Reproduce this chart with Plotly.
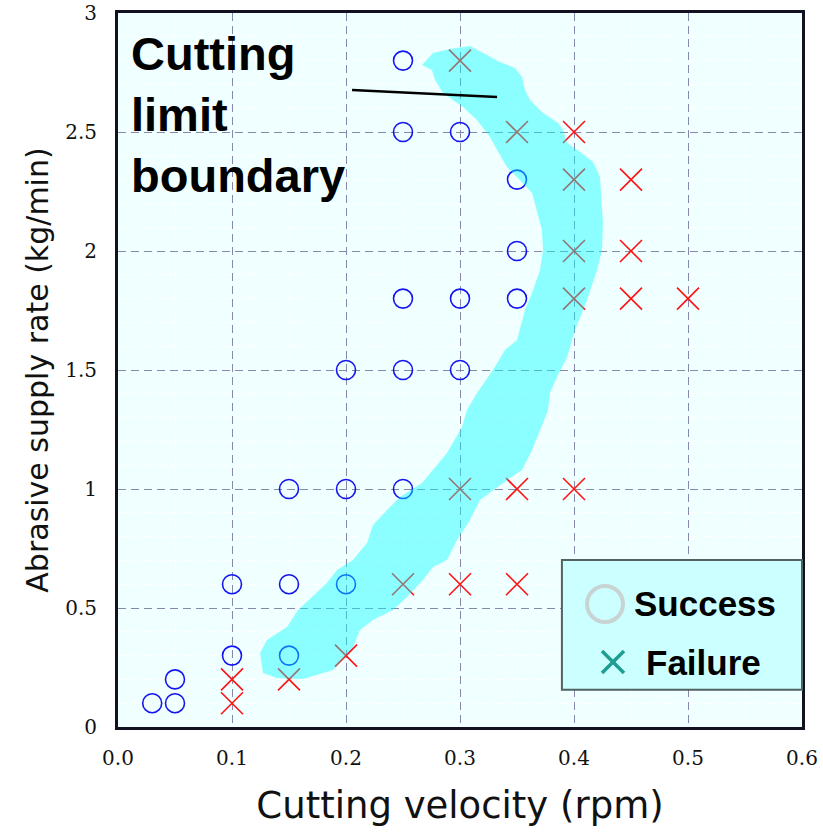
import plotly.graph_objects as go

# ---- data ----
success_v = [0.03, 0.05, 0.05, 0.10, 0.15, 0.10, 0.15, 0.20, 0.15, 0.20, 0.25,
             0.20, 0.25, 0.30, 0.25, 0.30, 0.35, 0.35, 0.35, 0.25, 0.30, 0.25]
success_r = [0.10, 0.10, 0.20, 0.30, 0.30, 0.60, 0.60, 0.60, 1.00, 1.00, 1.00,
             1.50, 1.50, 1.50, 1.80, 1.80, 1.80, 2.00, 2.30, 2.50, 2.50, 2.80]

failure_v = [0.10, 0.10, 0.15, 0.20, 0.25, 0.30, 0.35, 0.30, 0.35, 0.40,
             0.40, 0.45, 0.50, 0.40, 0.45, 0.40, 0.45, 0.35, 0.40, 0.30]
failure_r = [0.10, 0.20, 0.20, 0.30, 0.60, 0.60, 0.60, 1.00, 1.00, 1.00,
             1.80, 1.80, 1.80, 2.00, 2.00, 2.30, 2.30, 2.50, 2.50, 2.80]

# cutting limit boundary band (outline, data units)
band_v = [0.2667, 0.2763, 0.2912, 0.3088, 0.3202, 0.3351, 0.3482, 0.3544, 0.3570, 0.3614,
          0.3728, 0.3860, 0.3904, 0.3939, 0.4053, 0.4167, 0.4228, 0.4246, 0.4254, 0.4246,
          0.4202, 0.4114, 0.4009, 0.3939, 0.3851, 0.3789, 0.3772, 0.3728, 0.3632, 0.3544,
          0.3439, 0.3175, 0.3088, 0.2974, 0.2886, 0.2763, 0.2675, 0.2535, 0.2412, 0.2237,
          0.2123, 0.2061, 0.1886, 0.1623, 0.1395, 0.1272, 0.1246, 0.1307, 0.1482, 0.1579,
          0.1833, 0.1921, 0.2061, 0.2184, 0.2237, 0.2360, 0.2474, 0.2667, 0.2886, 0.3018,
          0.3061, 0.3149, 0.3289, 0.3395, 0.3500, 0.3570, 0.3632, 0.3702, 0.3728, 0.3719,
          0.3675, 0.3632, 0.3526, 0.3412, 0.3325, 0.3263, 0.3149, 0.3026, 0.2851, 0.2781,
          0.2754, 0.2667]
band_r = [2.782, 2.832, 2.849, 2.861, 2.832, 2.794, 2.769, 2.731, 2.676, 2.634,
          2.580, 2.538, 2.508, 2.454, 2.416, 2.374, 2.311, 2.202, 2.118, 2.004,
          1.920, 1.794, 1.668, 1.555, 1.471, 1.403, 1.332, 1.277, 1.164, 1.080,
          1.046, 0.954, 0.870, 0.786, 0.702, 0.672, 0.618, 0.546, 0.492, 0.450,
          0.408, 0.336, 0.239, 0.202, 0.206, 0.227, 0.311, 0.366, 0.420, 0.492,
          0.605, 0.660, 0.702, 0.773, 0.849, 0.912, 0.966, 1.025, 1.151, 1.261,
          1.332, 1.403, 1.500, 1.584, 1.626, 1.752, 1.824, 1.920, 2.004, 2.088,
          2.172, 2.244, 2.298, 2.353, 2.424, 2.479, 2.550, 2.605, 2.664, 2.718,
          2.761, 2.782]

x_ticks = [0.0, 0.1, 0.2, 0.3, 0.4, 0.5, 0.6]
y_ticks = [0, 0.5, 1, 1.5, 2, 2.5, 3]

label_text = "Cutting<br>limit<br>boundary"
label_pos = (0.010, 2.575)
pointer_v = [0.2053, 0.3325]
pointer_r = [2.676, 2.647]

legend_names = ["Success", "Failure"]

fig = go.Figure()

fig.add_trace(go.Scatter(
    x=success_v, y=success_r, mode="markers", name=legend_names[0], showlegend=False,
    marker=dict(symbol="circle-open", size=19, color="#1414f0", line=dict(width=1.6, color="#1414f0"))))
fig.add_trace(go.Scatter(
    x=failure_v, y=failure_r, mode="markers", name=legend_names[1], showlegend=False,
    marker=dict(symbol="x-thin-open", size=22, color="#ff1414", line=dict(width=1.6, color="#ff1414"))))
fig.add_trace(go.Scatter(
    x=band_v, y=band_r, mode="lines", fill="toself", showlegend=False,
    fillcolor="rgba(0,255,255,0.42)", line=dict(width=0), hoverinfo="skip"))

# pointer line from label to band
fig.add_trace(go.Scatter(
    x=pointer_v, y=pointer_r, mode="lines", showlegend=False,
    line=dict(color="black", width=2.5), hoverinfo="skip"))

fig.add_annotation(
    x=label_pos[0], y=label_pos[1], xref="x", yref="y", text="<b>" + label_text + "</b>",
    showarrow=False, xanchor="left", yanchor="middle", align="left",
    font=dict(family="Liberation Sans, Arial", size=47, color="black"))

# manual legend box
shapes = [
    dict(type="rect", xref="paper", yref="paper", x0=0.649, x1=1.0, y0=0.052, y1=0.234,
         fillcolor="#ccffff", line=dict(color="#506262", width=2), layer="above"),
    dict(type="circle", xref="paper", yref="paper", x0=0.6857, x1=0.7383, y0=0.147, y1=0.1975,
         line=dict(color="#c8d4d4", width=4), layer="above"),
    dict(type="line", xref="paper", yref="paper", x0=0.7076, x1=0.7398, y0=0.1064, y1=0.0756,
         line=dict(color="#1e9e92", width=3.5), layer="above"),
    dict(type="line", xref="paper", yref="paper", x0=0.7076, x1=0.7398, y0=0.0756, y1=0.1064,
         line=dict(color="#1e9e92", width=3.5), layer="above"),
]
fig.update_layout(shapes=shapes)
fig.add_annotation(x=0.7515, y=0.1723, xref="paper", yref="paper", text="<b>" + legend_names[0] + "</b>",
                   showarrow=False, xanchor="left", yanchor="middle",
                   font=dict(family="Liberation Sans, Arial", size=35, color="black"))
fig.add_annotation(x=0.769, y=0.091, xref="paper", yref="paper", text="<b>" + legend_names[1] + "</b>",
                   showarrow=False, xanchor="left", yanchor="middle",
                   font=dict(family="Liberation Sans, Arial", size=35, color="black"))

fig.update_xaxes(
    range=[0, 0.6], tickvals=x_ticks, tickformat=".1f", automargin=False,
    ticks="outside", ticklen=11, tickcolor="rgba(0,0,0,0)", ticklabeloverflow="allow",
    tickfont=dict(family="DejaVu Serif", size=20, color="#111111"),
    showgrid=True, gridcolor="#8888aa", gridwidth=1.2, griddash="8px,5px",
    minor=dict(dtick=0.05, showgrid=True, gridcolor="#ffffff", gridwidth=1),
    showline=True, linecolor="#111122", linewidth=3, mirror=True, zeroline=False,
    title=dict(text="Cutting velocity (rpm)", standoff=24,
               font=dict(family="DejaVu Sans", size=37, color="#111111")))
fig.update_yaxes(
    range=[0, 3], tickvals=y_ticks, automargin=False,
    ticks="outside", ticklen=14, tickcolor="rgba(0,0,0,0)", ticklabeloverflow="allow",
    tickfont=dict(family="DejaVu Serif", size=20, color="#111111"),
    showgrid=True, gridcolor="#8888aa", gridwidth=1.2, griddash="8px,5px",
    minor=dict(dtick=0.1, showgrid=True, gridcolor="#ffffff", gridwidth=1),
    showline=True, linecolor="#111122", linewidth=3, mirror=True, zeroline=False,
    title=dict(text="Abrasive supply rate (kg/min)", standoff=8,
               font=dict(family="DejaVu Sans", size=30, color="#111111")))

fig.update_layout(
    width=823, height=833,
    margin=dict(l=118, r=21, t=13, b=106),
    paper_bgcolor="white", plot_bgcolor="#f0ffff",
    showlegend=False)

fig.write_html("out.html", config={"displayModeBar": False},
               post_script="document.body.style.margin='0';")
